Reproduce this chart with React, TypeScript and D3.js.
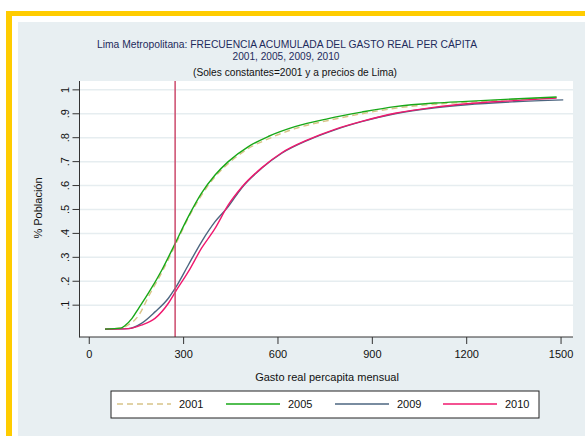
import React from "react";
import * as d3 from "d3";

type Pt = [number, number];

const title1 = "Lima Metropolitana: FRECUENCIA ACUMULADA DEL GASTO REAL PER CÁPITA";
const title2 = "2001, 2005, 2009, 2010";
const title3 = "(Soles constantes=2001 y a precios de Lima)";
const xLabel = "Gasto real percapita mensual";
const yLabel = "% Población";

const xTicks = [0, 300, 600, 900, 1200, 1500];
const yTicks = [0.1, 0.2, 0.3, 0.4, 0.5, 0.6, 0.7, 0.8, 0.9, 1];
const yTickLabels = [".1", ".2", ".3", ".4", ".5", ".6", ".7", ".8", ".9", "1"];
const povertyLine = 273;

const s2001: Pt[] = [[50,0],[100,0.005],[120,0.015],[156,0.055],[190,0.14],[232,0.24],[275,0.355],[317,0.47],[360,0.565],[402,0.64],[445,0.695],[506,0.755],[569,0.795],[654,0.838],[760,0.872],[866,0.9],[972,0.923],[1100,0.94],[1200,0.948],[1350,0.96],[1480,0.967]];
const s2005: Pt[] = [[50,0],[100,0.004],[113,0.014],[136,0.045],[156,0.085],[188,0.15],[230,0.245],[273,0.358],[315,0.47],[357,0.568],[400,0.644],[442,0.7],[506,0.763],[569,0.805],[654,0.846],[760,0.88],[866,0.907],[972,0.93],[1100,0.945],[1200,0.952],[1348,0.962],[1486,0.97]];
const s2009: Pt[] = [[50,0],[124,0.002],[166,0.024],[209,0.072],[251,0.128],[273,0.17],[315,0.268],[357,0.365],[400,0.449],[442,0.512],[484,0.589],[548,0.672],[612,0.735],[696,0.79],[781,0.833],[866,0.867],[972,0.9],[1100,0.925],[1200,0.938],[1350,0.95],[1507,0.958]];
const s2010: Pt[] = [[50,0],[124,0.002],[166,0.017],[209,0.045],[251,0.107],[273,0.154],[315,0.24],[357,0.338],[400,0.421],[442,0.519],[484,0.592],[548,0.674],[612,0.737],[696,0.792],[781,0.835],[866,0.868],[972,0.902],[1100,0.928],[1200,0.942],[1350,0.955],[1486,0.966]];

const seriesNames = ["2001", "2005", "2009", "2010"];
const seriesData = [s2001, s2005, s2009, s2010];
const seriesColors = ["#d8c488", "#18a818", "#4d6680", "#f0186e"];
const seriesDash = ["6,4", "", "", ""];

const FONT = "'Liberation Sans', Arial, Helvetica, sans-serif";

export default function App() {
  const W = 585, H = 436;
  const x = d3.scaleLinear().domain([-31, 1538]).range([79.5, 573]);
  const y = d3.scaleLinear().domain([-0.033, 1.037]).range([337, 81]);
  const line = d3.line<Pt>().x(d => x(d[0])).y(d => y(d[1])).curve(d3.curveMonotoneX);
  const drawOrder = [0, 2, 3, 1];
  const legendX = [117, 226, 335, 443];
  return (
    <svg width={W} height={H} style={{ position: "absolute", left: 0, top: 0 }} fontFamily={FONT}>
      <rect x={0} y={0} width={W} height={H} fill="#ffffff" />
      <rect x={6} y={11} width={W - 6} height={H - 11} fill="#ffcc00" />
      <rect x={12} y={16} width={W - 12} height={H - 16} fill="#ffffff" />
      <rect x={18} y={22} width={W - 18} height={H - 22} fill="#e8eff2" />
      <text x={287} y={48} textAnchor="middle" fontSize={11} fill="#1e2b5c" textLength={380} lengthAdjust="spacingAndGlyphs">{title1}</text>
      <text x={286} y={60} textAnchor="middle" fontSize={11} fill="#1e2b5c" textLength={107} lengthAdjust="spacingAndGlyphs">{title2}</text>
      <text x={295} y={75.5} textAnchor="middle" fontSize={11} fill="#111" textLength={204} lengthAdjust="spacingAndGlyphs">{title3}</text>
      <rect x={79.5} y={81} width={573 - 79.5} height={337 - 81} fill="#ffffff" />
      {yTicks.map(t => (
        <line key={"g" + t} x1={80} x2={573} y1={y(t)} y2={y(t)} stroke="#e6edf0" strokeWidth={1.5} />
      ))}
      {drawOrder.map(i => (
        <path key={seriesNames[i]} d={line(seriesData[i]) || ""} fill="none" stroke={seriesColors[i]}
          strokeWidth={1.4} strokeDasharray={seriesDash[i] || undefined} />
      ))}
      <line x1={x(povertyLine)} x2={x(povertyLine)} y1={81} y2={337} stroke="#cc4a6c" strokeWidth={1.5} />
      <line x1={79.5} x2={79.5} y1={81} y2={337.5} stroke="#333" strokeWidth={1} />
      <line x1={79.5} x2={573} y1={337} y2={337} stroke="#333" strokeWidth={1} />
      {yTicks.map((t, i) => (
        <g key={"y" + t}>
          <line x1={72.5} x2={79.5} y1={y(t)} y2={y(t)} stroke="#333" />
          <text transform={`translate(69,${y(t)}) rotate(-90)`} textAnchor="middle" fontSize={11} fill="#111">{yTickLabels[i]}</text>
        </g>
      ))}
      {xTicks.map(t => (
        <g key={"x" + t}>
          <line x1={x(t)} x2={x(t)} y1={337} y2={344} stroke="#333" />
          <text x={x(t)} y={358} textAnchor="middle" fontSize={11} fill="#111">{t}</text>
        </g>
      ))}
      <text x={327} y={381} textAnchor="middle" fontSize={11} fill="#111">{xLabel}</text>
      <text transform={`translate(42,208) rotate(-90)`} textAnchor="middle" fontSize={11} fill="#111">{yLabel}</text>
      <rect x={111} y={391} width={428} height={27} fill="#ffffff" stroke="#222" strokeWidth={1} />
      {seriesNames.map((n, i) => (
        <g key={"l" + n}>
          <line x1={legendX[i]} x2={legendX[i] + 54} y1={404} y2={404} stroke={seriesColors[i]} strokeWidth={1.4}
            strokeDasharray={seriesDash[i] || undefined} />
          <text x={legendX[i] + 62} y={408} fontSize={11} fill="#111">{n}</text>
        </g>
      ))}
    </svg>
  );
}
